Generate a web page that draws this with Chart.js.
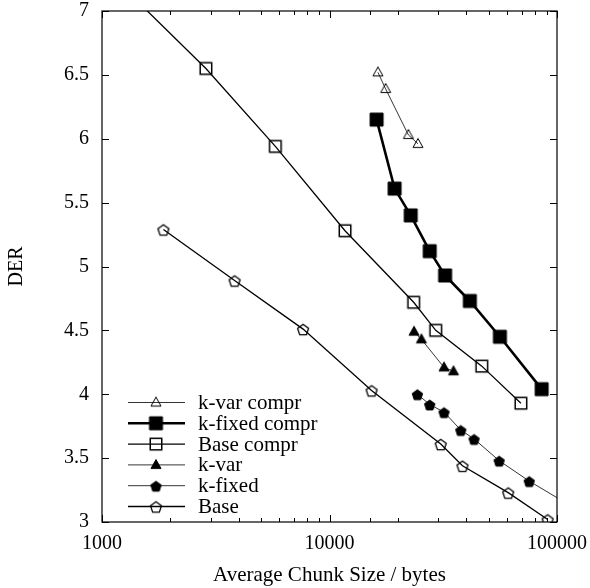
<!DOCTYPE html>
<html>
<head>
<meta charset="utf-8">
<script src="https://cdn.jsdelivr.net/npm/chart.js@4/dist/chart.umd.min.js"></script>
<style>
  html, body { margin: 0; padding: 0; background: #fff; }
  #wrap { width: 590px; height: 588px; position: relative; }
</style>
</head>
<body>
<div id="wrap"><canvas id="c" width="590" height="588"></canvas></div>
<script>
// ---- data ----
const seriesNames = ['k-var compr', 'k-fixed compr', 'Base compr', 'k-var', 'k-fixed', 'Base'];

const kVarComprX = [16320, 17650, 22220, 24490];
const kVarComprY = [6.52, 6.39, 6.03, 5.96];

const kFixedComprX = [16110, 19330, 22750, 27570, 32210, 41380, 56100, 85640];
const kFixedComprY = [6.15, 5.61, 5.40, 5.12, 4.93, 4.73, 4.45, 4.04];

const baseComprX = [1200, 2862, 5782, 11700, 23440, 29310, 46720, 69400];
const baseComprY = [7.21, 6.55, 5.94, 5.28, 4.72, 4.50, 4.22, 3.93];

const kVarX = [23520, 25350, 31880, 35070];
const kVarY = [4.49, 4.43, 4.21, 4.18];

const kFixedX = [24340, 27570, 31880, 37760, 43220, 55690, 75510, 127000];
const kFixedY = [4.00, 3.92, 3.86, 3.72, 3.65, 3.48, 3.32, 3.08];

const baseX = [1862, 3826, 7656, 15310, 30830, 38420, 61020, 90990];
const baseY = [5.29, 4.89, 4.51, 4.03, 3.61, 3.44, 3.23, 3.02];

const xTickLabels = [1000, 10000, 100000];
const yTickLabels = [3, 3.5, 4, 4.5, 5, 5.5, 6, 6.5, 7];

// ---- marker images ----
function makeMarker(shape, filled, size, lw) {
  const pad = 2;
  const c = document.createElement('canvas');
  const s = Math.ceil(size + pad * 2);
  c.width = s; c.height = s;
  const g = c.getContext('2d');
  const cx = s / 2, cy = s / 2;
  g.beginPath();
  if (shape === 'square') {
    const h = size / 2;
    g.rect(cx - h, cy - h, size, size);
  } else if (shape === 'triangle') {
    const h = size * 0.9;
    g.moveTo(cx, cy - h * 0.6);
    g.lineTo(cx + size / 2, cy + h * 0.4);
    g.lineTo(cx - size / 2, cy + h * 0.4);
    g.closePath();
  } else if (shape === 'pentagon') {
    const r = size / 2;
    for (let k = 0; k < 5; k++) {
      const a = -Math.PI / 2 + k * 2 * Math.PI / 5;
      const px = cx + r * Math.cos(a), py = cy + 1 + r * Math.sin(a);
      if (k === 0) g.moveTo(px, py); else g.lineTo(px, py);
    }
    g.closePath();
  }
  g.lineWidth = lw;
  g.strokeStyle = '#000';
  g.lineJoin = 'miter';
  if (filled) { g.fillStyle = '#000'; g.fill(); }
  g.stroke();
  return c;
}

const markers = [
  makeMarker('triangle', false, 10, 1.0),
  makeMarker('square', true, 13, 1.0),
  makeMarker('square', false, 11.5, 1.5),
  makeMarker('triangle', true, 10, 1.0),
  makeMarker('pentagon', true, 11, 1.0),
  makeMarker('pentagon', false, 11.5, 1.3)
];
const lineWidths = [0.8, 2.6, 1.3, 0.8, 0.8, 1.3];

const xs = [kVarComprX, kFixedComprX, baseComprX, kVarX, kFixedX, baseX];
const ys = [kVarComprY, kFixedComprY, baseComprY, kVarY, kFixedY, baseY];

const datasets = seriesNames.map((name, i) => ({
  label: name,
  data: xs[i].map((x, j) => ({ x: x, y: ys[i][j] })),
  borderColor: '#000',
  backgroundColor: '#000',
  borderWidth: lineWidths[i],
  pointStyle: markers[i],
  pointRadius: 6,
  pointHoverRadius: 6,
  tension: 0,
  fill: false
}));

const FONT = 'Liberation Serif, Times New Roman, serif';

const framePlugin = {
  id: 'frame',
  afterDatasetsDraw(chart) {
    const { ctx, chartArea: a, scales: { x, y } } = chart;
    ctx.save();
    ctx.strokeStyle = '#000';
    ctx.lineWidth = 1.2;
    ctx.strokeRect(a.left, a.top, a.right - a.left, a.bottom - a.top);
    ctx.lineWidth = 1;
    ctx.beginPath();
    y.ticks.forEach(t => {
      const py = Math.round(y.getPixelForValue(t.value)) + 0.5;
      ctx.moveTo(a.left, py); ctx.lineTo(a.left + 7, py);
      ctx.moveTo(a.right, py); ctx.lineTo(a.right - 7, py);
    });
    x.ticks.forEach(t => {
      const px = Math.round(x.getPixelForValue(t.value)) + 0.5;
      const len = xTickLabels.includes(t.value) ? 7 : 4;
      ctx.moveTo(px, a.bottom); ctx.lineTo(px, a.bottom - len);
      ctx.moveTo(px, a.top); ctx.lineTo(px, a.top + len);
    });
    ctx.stroke();
    ctx.restore();
  },
  afterDraw(chart) {
    const { ctx } = chart;
    const x0 = 128, x1 = 185, xm = 156, xt = 198;
    const y0 = 402.5, dy = 20.8;
    ctx.save();
    ctx.font = '21px ' + FONT;
    ctx.fillStyle = '#000';
    ctx.textBaseline = 'middle';
    seriesNames.forEach((name, i) => {
      const yy = y0 + i * dy;
      ctx.beginPath();
      ctx.lineWidth = lineWidths[i];
      ctx.strokeStyle = '#000';
      ctx.moveTo(x0, yy); ctx.lineTo(x1, yy);
      ctx.stroke();
      const m = markers[i];
      ctx.drawImage(m, xm - m.width / 2, yy - m.height / 2);
      ctx.fillText(name, xt, yy + 1);
    });
    ctx.restore();
  }
};

new Chart(document.getElementById('c'), {
  type: 'line',
  data: { datasets: datasets },
  options: {
    responsive: false,
    animation: false,
    events: [],
    layout: { padding: { left: 0, top: 11, right: 33, bottom: 0 } },
    plugins: { legend: { display: false }, tooltip: { enabled: false } },
    scales: {
      x: {
        type: 'logarithmic',
        min: 1000,
        max: 100000,
        grid: { display: false, drawTicks: false },
        border: { display: false },
        ticks: {
          autoSkip: false,
          maxRotation: 0,
          padding: 10,
          color: '#000',
          font: { family: FONT, size: 20 },
          callback: (v) => xTickLabels.includes(v) ? String(v) : ''
        },
        title: {
          display: true,
          text: 'Average Chunk Size / bytes',
          color: '#000',
          font: { family: FONT, size: 21 },
          padding: { top: 0, bottom: 0 }
        },
        afterFit: (s) => { s.height = 66; s.paddingLeft = 0; s.paddingRight = 0; }
      },
      y: {
        type: 'linear',
        min: 3,
        max: 7,
        grid: { display: false, drawTicks: false },
        border: { display: false },
        ticks: {
          stepSize: 0.5,
          padding: 13,
          color: '#000',
          font: { family: FONT, size: 20 },
          callback: (v) => yTickLabels.includes(v) ? String(v) : ''
        },
        title: {
          display: true,
          text: 'DER',
          color: '#000',
          font: { family: FONT, size: 20 },
          padding: { top: 5, bottom: 0 }
        },
        afterFit: (s) => { s.width = 102; s.paddingTop = 0; s.paddingBottom = 0; }
      }
    }
  },
  plugins: [framePlugin]
});
</script>
</body>
</html>
